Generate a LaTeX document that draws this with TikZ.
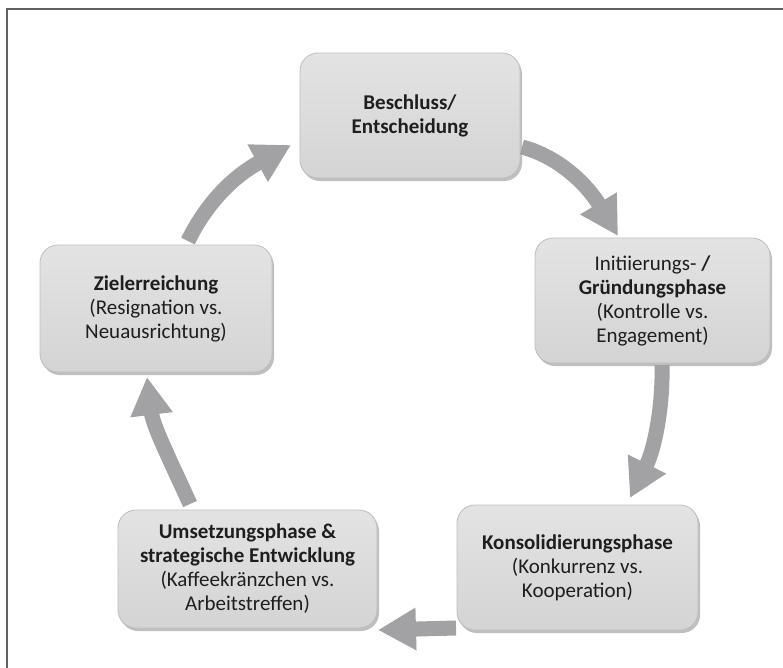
\documentclass[tikz,border=0pt]{standalone}
\usepackage{fontspec}
\setmainfont{Carlito}
\usetikzlibrary{arrows.meta,shadows}
\definecolor{framegray}{HTML}{5F5F5F}
\definecolor{boxtop}{HTML}{E3E3E3}
\definecolor{boxbottom}{HTML}{D4D4D4}
\definecolor{boxline}{HTML}{BEBEBE}
\definecolor{arrowgray}{HTML}{A2A2A5}
\definecolor{txt}{HTML}{1E1E1E}
\tikzset{
  phase/.style={rounded corners=18pt, draw=boxline, line width=0.8pt,
    top color=boxtop, bottom color=boxbottom,
    drop shadow={shadow xshift=2pt, shadow yshift=-3pt, opacity=0.45, fill=black!55},
    align=center, inner sep=0pt, text=txt,
    font=\fontsize{21pt}{24pt}\selectfont},
  cyclearrow/.style={draw=arrowgray, line width=15pt,
    -{Triangle[width=40pt,length=38pt,fill=arrowgray]}}
}
\begin{document}
\begin{tikzpicture}[x=1pt,y=-1pt]
\useasboundingbox (0,0) rectangle (783,667);
\fill[white] (0,0) rectangle (783,667);

% outer frame (only left and top edges fall inside the page)
\draw[framegray, line width=2.2pt] (7,668) -- (7,9) -- (784,9);

% phases of the cycle
\node[phase, minimum width=220pt, minimum height=125pt] (beschluss) at (410,115.5)
  {\textbf{Beschluss/}\\\textbf{Entscheidung}};
\node[phase, minimum width=235pt, minimum height=125pt] (gruendung) at (652.5,300.5)
  {Initiierungs- \textbf{/}\\\textbf{Gründungsphase}\\(Kontrolle vs.\\Engagement)};
\node[phase, minimum width=241pt, minimum height=125pt] (konsol) at (577.5,567.5)
  {\textbf{Konsolidierungsphase}\\(Konkurrenz vs.\\Kooperation)};
\node[phase, minimum width=259pt, minimum height=118pt] (umsetzung) at (247.5,569)
  {\textbf{Umsetzungsphase \&}\\\textbf{strategische Entwicklung}\\(Kaffeekränzchen vs.\\Arbeitstreffen)};
\node[phase, minimum width=232pt, minimum height=127pt] (ziel) at (156,308.5)
  {\textbf{Zielerreichung}\\(Resignation vs.\\Neuausrichtung)};

% arrow end points beside the boxes
\coordinate (a1s) at (522,147);  \coordinate (a1e) at (618,236);
\coordinate (a2s) at (662,365);  \coordinate (a2e) at (630,498);
\coordinate (a3s) at (456,628);  \coordinate (a3e) at (378,630);
\coordinate (a4s) at (190,504);  \coordinate (a4e) at (147,377);
\coordinate (a5s) at (188,241);  \coordinate (a5e) at (291,145);

% cycle arrows
\draw[cyclearrow] (a1s) .. controls (560,157) and (588,186) .. (a1e);
\draw[cyclearrow] (a2s) .. controls (663,405) and (655,448) .. (a2e);
\draw[cyclearrow] (a3s) -- (a3e);
\draw[cyclearrow] (a4s) .. controls (170,460) and (153,426) .. (a4e);
\draw[cyclearrow] (a5s) .. controls (208,200) and (236,175) .. (a5e);
\end{tikzpicture}
\end{document}
